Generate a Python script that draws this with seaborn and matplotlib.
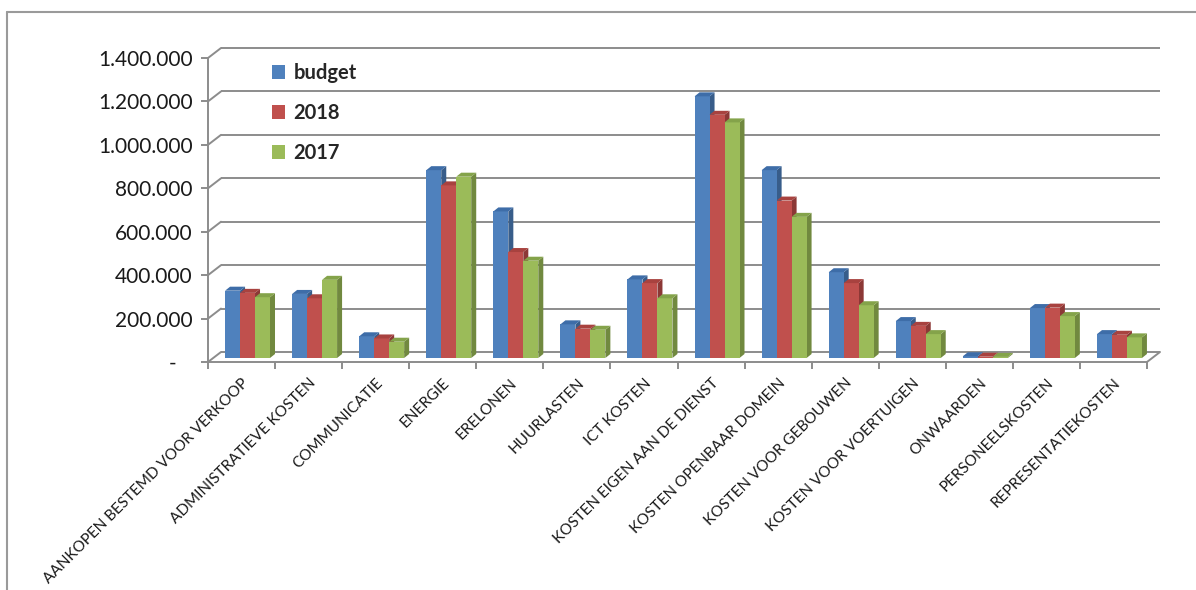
import numpy as np
import pandas as pd
import matplotlib
matplotlib.use("Agg")
import matplotlib.pyplot as plt
import seaborn as sns
from matplotlib.patches import Polygon
from matplotlib.lines import Line2D
import matplotlib.transforms as mtransforms

categories = [
    "AANKOPEN BESTEMD VOOR VERKOOP", "ADMINISTRATIEVE KOSTEN", "COMMUNICATIE",
    "ENERGIE", "ERELONEN", "HUURLASTEN", "ICT KOSTEN",
    "KOSTEN EIGEN AAN DE DIENST", "KOSTEN OPENBAAR DOMEIN", "KOSTEN VOOR GEBOUWEN",
    "KOSTEN VOOR VOERTUIGEN", "ONWAARDEN", "PERSONEELSKOSTEN", "REPRESENTATIEKOSTEN",
]
series_names = ["budget", "2018", "2017"]
budget = [310000, 295000, 100000, 865000, 675000, 155000, 362000,
          1205000, 865000, 395000, 170000, 8000, 230000, 110000]
y2018 = [300000, 275000, 90000, 795000, 488000, 135000, 345000,
         1120000, 725000, 345000, 148000, 6000, 232000, 107000]
y2017 = [280000, 360000, 75000, 835000, 448000, 130000, 275000,
         1085000, 650000, 243000, 110000, 5000, 193000, 95000]
yticks = [0, 200000, 400000, 600000, 800000, 1000000, 1200000, 1400000]

colors = ["#4F81BD", "#C0504D", "#9BBB59"]
side_colors = ["#385D8A", "#8C3836", "#71893F"]
top_colors = ["#3E6DA8", "#A8423F", "#84A34A"]

sns.set_theme(style="white")
plt.rcParams['font.family'] = ['Lato', 'DejaVu Sans']

W, H = 1196, 590
fig = plt.figure(figsize=(W / 100, H / 100), dpi=100)
ax_left, ax_right, ax_bottom, ax_top = 208, 1147, 362, 58
ax = fig.add_axes([ax_left / W, (H - ax_bottom) / H,
                   (ax_right - ax_left) / W, (ax_bottom - ax_top) / H])

df = pd.DataFrame({"category": categories, "budget": budget,
                   "2018": y2018, "2017": y2017})
long = df.melt(id_vars="category", value_vars=series_names,
               var_name="series", value_name="value")

sns.barplot(data=long, x="category", y="value", hue="series",
            hue_order=series_names, order=categories,
            palette=colors, saturation=1, width=0.67, linewidth=0, ax=ax)

ax.set_xlim(-0.5, len(categories) - 0.5)
ax.set_ylim(0, 1400000)

# pixel -> data conversion
px_x = (ax_right - ax_left) / len(categories)
px_y = (ax_bottom - ax_top) / 1400000

# bars sit a little behind the front plane
depth_tr = ax.transData + mtransforms.ScaledTranslation(6 / 100, 4 / 100, fig.dpi_scale_trans)

# 3D bar effect
bdx, bdy = 5 / px_x, 4 / px_y
for j, cont in enumerate(ax.containers):
    for rect in cont:
        x, w, h = rect.get_x(), rect.get_width(), rect.get_height()
        rect.set_zorder(3 + j * 0.1 + 0.05)
        rect.set_transform(depth_tr)
        rect.set_clip_on(False)
        side = Polygon([(x + w, 0), (x + w + bdx, bdy), (x + w + bdx, h + bdy), (x + w, h)],
                       closed=True, facecolor=side_colors[j], edgecolor="none",
                       zorder=3 + j * 0.1, transform=depth_tr, clip_on=False)
        top = Polygon([(x, h), (x + bdx, h + bdy), (x + w + bdx, h + bdy), (x + w, h)],
                      closed=True, facecolor=top_colors[j], edgecolor="none",
                      zorder=3 + j * 0.1 + 0.06, transform=depth_tr, clip_on=False)
        ax.add_patch(side)
        ax.add_patch(top)

# back wall gridlines with depth offset
gdx, gdy = 13 / px_x, 10 / px_y
x0, x1 = ax.get_xlim()
gcol = "#8C8C8C"
for v in yticks:
    ax.plot([x0 + gdx, x1 + gdx], [v + gdy, v + gdy], color=gcol, lw=1.4,
            zorder=1, clip_on=False, solid_capstyle="butt")
    ax.plot([x0, x0 + gdx], [v, v + gdy], color=gcol, lw=1.4,
            zorder=1, clip_on=False)
# floor right edge
ax.plot([x1, x1 + gdx], [0, gdy], color=gcol, lw=1.4, zorder=1, clip_on=False)

# axes styling
for s in ["top", "right"]:
    ax.spines[s].set_visible(False)
for s in ["left", "bottom"]:
    ax.spines[s].set_color(gcol)
    ax.spines[s].set_linewidth(1.4)
    ax.spines[s].set_zorder(2)

ax.set_yticks(yticks)
ax.set_yticklabels([("-   " if v == 0 else f"{v:,.0f}".replace(",", ".")) for v in yticks],
                   fontsize=15, color="#1a1a1a")
ax.tick_params(axis="y", length=5, width=1.4, color=gcol, direction="out", pad=6, left=True)

ax.set_xticks(range(len(categories)))
ax.set_xticklabels(categories, rotation=45, ha="right", rotation_mode="anchor",
                   fontsize=11, color="#1a1a1a")
ax.tick_params(axis="x", length=0, pad=10)
ax.set_xticks(np.arange(-0.5, len(categories), 1.0), minor=True)
ax.tick_params(axis="x", which="minor", length=5, width=1.4, color=gcol, direction="out", bottom=True)

ax.set_xlabel("")
ax.set_ylabel("")
ax.grid(False)
ax.set_facecolor("none")

leg = ax.legend(loc="upper left", bbox_to_anchor=(0.06, 1.01), frameon=False,
                prop={"weight": "bold", "size": 14.5}, handlelength=0.65, handleheight=0.65,
                handletextpad=0.4, labelspacing=1.0, borderaxespad=0)

# outer chart border
bcol = "#9A9A9A"
fig.add_artist(Line2D([7 / W, 7 / W], [0, (H - 12) / H], transform=fig.transFigure,
                      color=bcol, lw=1.5))
fig.add_artist(Line2D([7 / W, 1], [(H - 12) / H, (H - 12) / H], transform=fig.transFigure,
                      color=bcol, lw=1.5))

fig.savefig("out.png", dpi=100)
